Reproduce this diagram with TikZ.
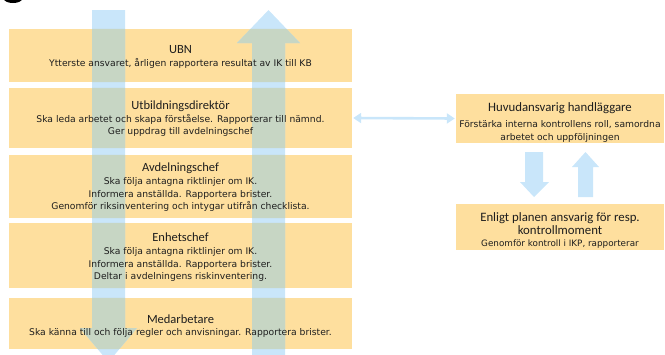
\documentclass[tikz,border=0pt]{standalone}
\usepackage{fontspec}
\setmainfont{Carlito}
\newfontfamily\bodyfam{DejaVu Sans}
\usetikzlibrary{arrows.meta}
\definecolor{boxc}{HTML}{FEDF9E}
\definecolor{arrc}{HTML}{C9E6FA}
\definecolor{ovc}{HTML}{C7D6C4}
\definecolor{txtc}{HTML}{1E1E1E}
\newcommand\ttlf{\rmfamily\fontsize{12.5}{13}\selectfont}
\newcommand\rttlf{\rmfamily\fontsize{12.8}{13.5}\selectfont}
\newcommand\bdyf{\bodyfam\fontsize{9.2}{12.5}\selectfont}
\newcommand\smlf{\bodyfam\fontsize{8.8}{11}\selectfont}
\begin{document}
\begin{tikzpicture}[x=1pt,y=-1pt,
  box/.style={fill=boxc, draw=none, inner sep=0pt},
  lbox/.style={box, minimum width=343pt},
  rbox/.style={box, minimum width=208pt},
  txt/.style={align=center, text=txtc, inner sep=0pt, font=\bdyf},
  dbl/.style={draw=arrc, line width=2.6pt, {Triangle[length=8pt,width=10pt]}-{Triangle[length=8pt,width=10pt]}}
]
\useasboundingbox (0,0) rectangle (665,354);
\clip (0,0) rectangle (665,354);
% partial logo fragment
\fill[black] (13,-1) ellipse [x radius=9pt, y radius=4pt];

% boxes
\node[lbox, minimum height=53pt] (ubn) at (180.5,55.5) {};
\node[lbox, minimum height=60pt] (utb) at (180.5,118) {};
\node[lbox, minimum height=63pt] (avd) at (180.5,186.5) {};
\node[lbox, minimum height=65pt] (enh) at (180.5,255.5) {};
\node[lbox, minimum height=51pt] (med) at (180.5,323.5) {};
\node[rbox, minimum height=49pt] (huv) at (560,118.5) {};
\node[rbox, minimum height=46pt] (enl) at (560,227) {};

% big arrows
\fill[arrc] (92,10) -- (125,10) -- (125,328) -- (137,328) -- (108.5,362) -- (80,328) -- (92,328) -- cycle;
\fill[arrc] (252,360) -- (252,43) -- (237,43) -- (268.5,10) -- (300,43) -- (285,43) -- (285,360) -- cycle;
\begin{scope}
  \clip (ubn.north west) rectangle (ubn.south east)
        (utb.north west) rectangle (utb.south east)
        (avd.north west) rectangle (avd.south east)
        (enh.north west) rectangle (enh.south east)
        (med.north west) rectangle (med.south east);
  \fill[ovc] (92,10) -- (125,10) -- (125,328) -- (137,328) -- (108.5,362) -- (80,328) -- (92,328) -- cycle;
  \fill[ovc] (252,360) -- (252,43) -- (237,43) -- (268.5,10) -- (300,43) -- (285,43) -- (285,360) -- cycle;
\end{scope}

% small arrows between right boxes
\fill[arrc] (525,152) -- (543,152) -- (543,182) -- (549,182) -- (534,197) -- (520,182) -- (525,182) -- cycle;
\fill[arrc] (578,197) -- (578,167) -- (572,167) -- (585.5,152) -- (599,167) -- (593,167) -- (593,197) -- cycle;

% double arrow
\draw[dbl, shorten <=1pt, shorten >=1pt] (utb.east) -- (huv.west);

% texts
\node[txt] (ubnT) at (180.5,57) {{\ttlf UBN}\\[1pt]Ytterste ansvaret, årligen rapportera resultat av IK till KB};
\node[txt] (utbT) at (180.5,119) {{\ttlf Utbildningsdirektör}\\[0pt]Ska leda arbetet  och skapa förståelse.  Rapporterar till nämnd.\\Ger uppdrag till avdelningschef};
\node[txt] (avdT) at (180.5,187) {{\ttlf Avdelningschef}\\[1pt]Ska följa antagna  riktlinjer om IK.\\Informera anställda.  Rapportera  brister.\\Genomför  riksinventering och intygar utifrån  checklista.};
\node[txt] (enhT) at (180.5,257) {{\ttlf Enhetschef}\\[1pt]Ska följa antagna  riktlinjer om IK.\\Informera anställda.  Rapportera  brister.\\Deltar  i avdelningens riskinventering.};
\node[txt] (medT) at (180.5,326) {{\ttlf Medarbetare}\\[0pt]Ska känna till och följa regler och anvisningar. Rapportera brister.};
\node[txt] (huvT) at (560,122.5) {{\rttlf Huvudansvarig  handläggare}\\[3.5pt]Förstärka interna  kontrollens  roll, samordna\\arbetet och uppföljningen};
\node[txt] (enlT) at (560,230.5) {{\rttlf Enligt planen ansvarig  för resp.}\\[0pt]{\rttlf kontrollmoment}\\[0pt]{\smlf Genomför  kontroll i IKP, rapporterar}};
\end{tikzpicture}
\end{document}
